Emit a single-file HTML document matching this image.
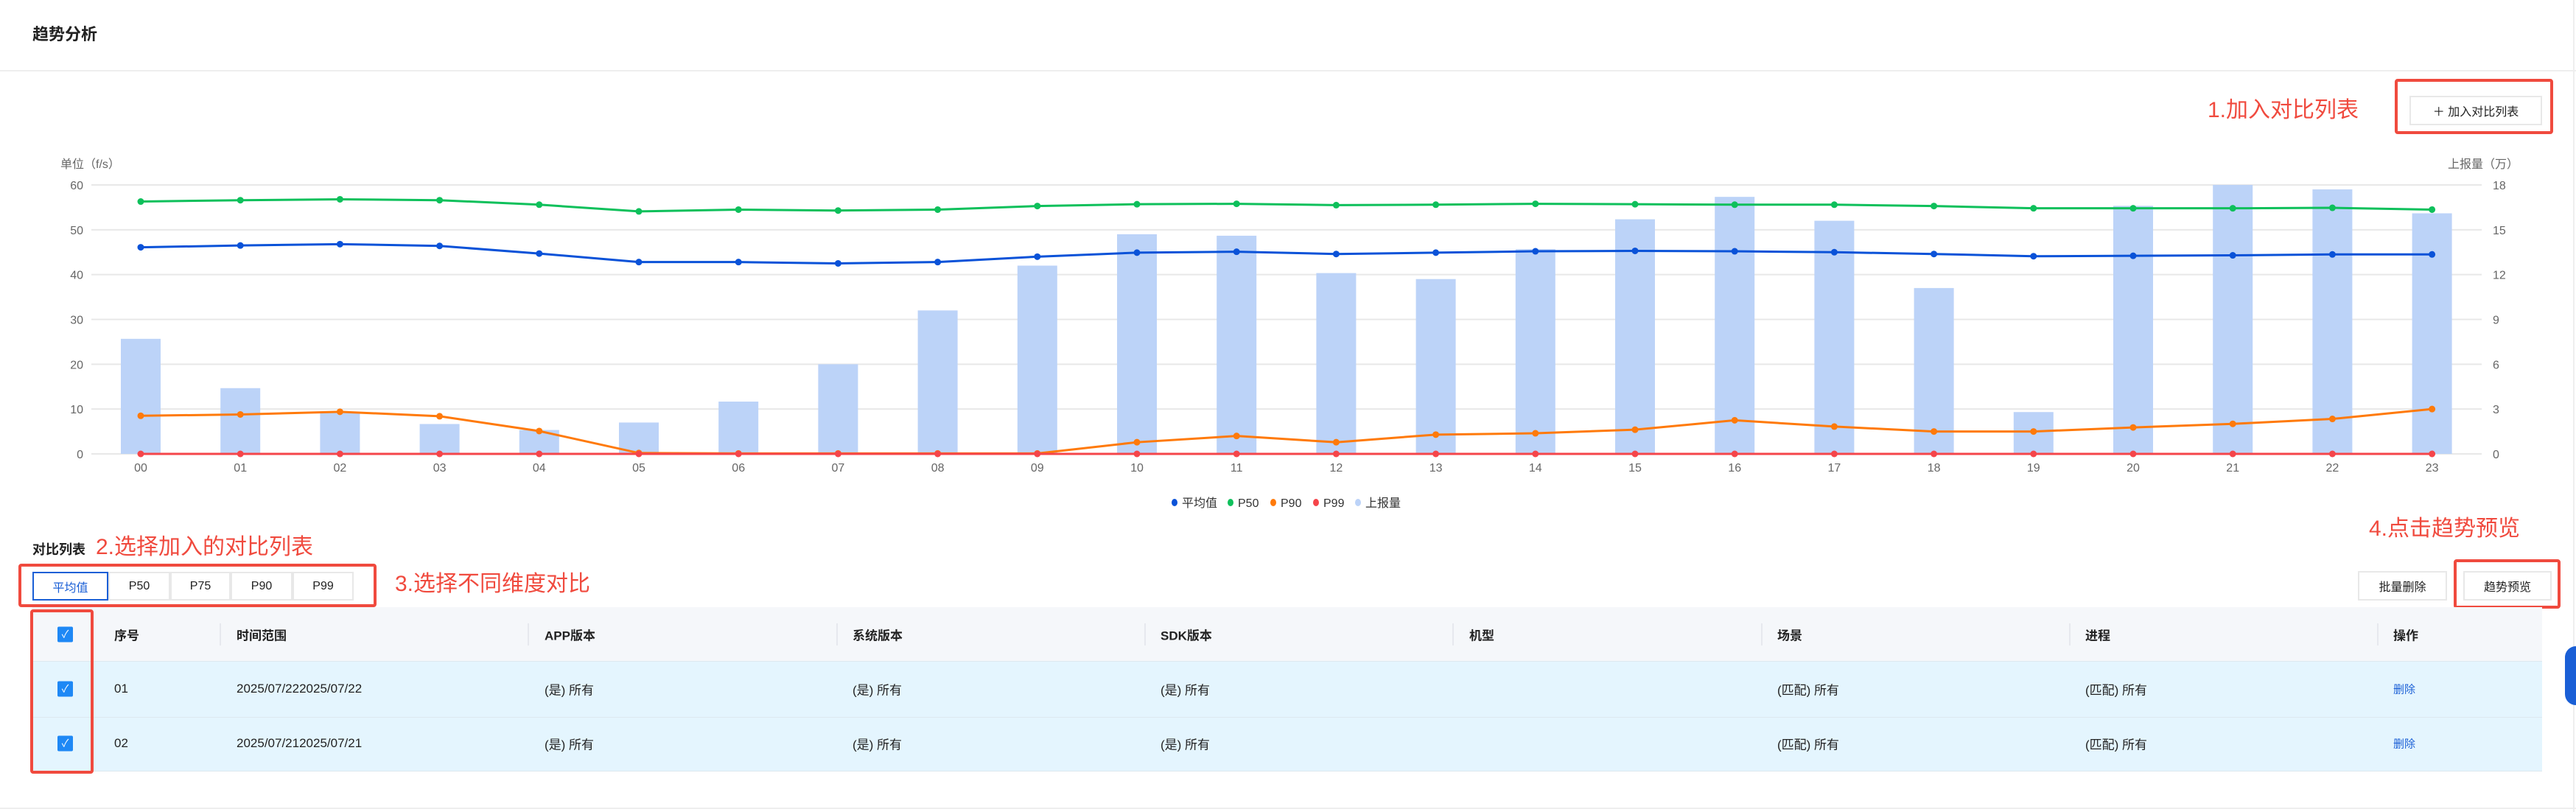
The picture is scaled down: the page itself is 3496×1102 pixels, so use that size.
<!DOCTYPE html>
<html><head><meta charset="utf-8">
<style>
*{margin:0;padding:0;box-sizing:border-box}
body{width:3496px;height:1102px;background:#fff;position:relative;overflow:hidden;font-family:"Liberation Sans","Noto Sans CJK SC",sans-serif;color:#222}
.a{position:absolute;white-space:nowrap}
.red{color:#f04a3e;font-size:30px;line-height:30px}
.rbox{position:absolute;border:4px solid #f04a3e;border-radius:4px}
.btn{position:absolute;border:2px solid #e8e8e8;background:#fff;font-size:16px;display:flex;align-items:center;justify-content:center}
.th{position:absolute;font-size:17px;font-weight:bold;transform:translateY(-50%)}
.td{position:absolute;font-size:17px;transform:translateY(-50%)}
.div{position:absolute;width:2px;background:#e6e8ee;top:846px;height:30px}
.cb{position:absolute;left:78px;width:21px;height:21px;background:#1e88f5;border-radius:2px;color:#fff;font-size:14px;line-height:21px;text-align:center;transform:translateY(-50%)}
</style></head><body>
<div class="a" style="left:44px;top:29px;font-size:22px;font-weight:bold">趋势分析</div>
<div class="a" style="left:0;top:95px;width:3496px;height:2px;background:#eee"></div>
<div class="a" style="left:3492px;top:0;width:2px;height:1102px;background:#eee"></div>

<div class="a red" style="left:2996px;top:135px">1.加入对比列表</div>
<div class="rbox" style="left:3250px;top:107px;width:215px;height:75px"></div>
<div class="btn" style="left:3270px;top:130px;width:180px;height:40px">＋&nbsp;加入对比列表</div>

<svg class="a" style="left:0;top:0" width="3496" height="720" id="chart" font-family="Liberation Sans, Noto Sans CJK SC, sans-serif"></svg>

<div class="a" style="left:44px;top:732px;font-size:18px;font-weight:bold">对比列表</div>
<div class="a red" style="left:130px;top:728px">2.选择加入的对比列表</div>
<div class="rbox" style="left:25px;top:765px;width:486px;height:59px"></div>
<div class="a" style="left:44px;top:776px;width:436px;height:39px;border:2px solid #e8e8e8"></div>
<div class="btn" style="left:44px;top:776px;width:103px;height:39px;border:2px solid #1a5fd6;color:#1a5fd6">平均值</div>
<div class="btn" style="left:147px;top:776px;width:84px;height:39px">P50</div>
<div class="btn" style="left:231px;top:776px;width:82px;height:39px">P75</div>
<div class="btn" style="left:313px;top:776px;width:84px;height:39px">P90</div>
<div class="btn" style="left:397px;top:776px;width:83px;height:39px">P99</div>
<div class="a red" style="left:536px;top:778px">3.选择不同维度对比</div>
<div class="a red" style="left:3215px;top:703px">4.点击趋势预览</div>
<div class="btn" style="left:3200px;top:775px;width:121px;height:40px">批量删除</div>
<div class="btn" style="left:3343px;top:775px;width:120px;height:40px">趋势预览</div>
<div class="rbox" style="left:3330px;top:759px;width:145px;height:67px"></div>

<div class="a" style="left:44px;top:824px;width:3406px;height:73px;background:#f5f7fa"></div>
<div class="a" style="left:44px;top:897px;width:3406px;height:76px;background:#e4f5fe;border-top:1px solid #dde8ef"></div>
<div class="a" style="left:44px;top:973px;width:3406px;height:74px;background:#e4f5fe;border-top:1px solid #dde8ef;border-bottom:1px solid #dde8ef"></div>
<div class="div" style="left:298px"></div><div class="div" style="left:716px"></div><div class="div" style="left:1135px"></div><div class="div" style="left:1553px"></div><div class="div" style="left:1971px"></div><div class="div" style="left:2390px"></div><div class="div" style="left:2808px"></div><div class="div" style="left:3226px"></div>
<div class="cb" style="top:861px">✓</div><div class="cb" style="top:935px">✓</div><div class="cb" style="top:1009px">✓</div>
<div class="th" style="left:155px;top:861px">序号</div><div class="th" style="left:321px;top:861px">时间范围</div><div class="th" style="left:739px;top:861px">APP版本</div><div class="th" style="left:1157px;top:861px">系统版本</div><div class="th" style="left:1575px;top:861px">SDK版本</div><div class="th" style="left:1994px;top:861px">机型</div><div class="th" style="left:2412px;top:861px">场景</div><div class="th" style="left:2830px;top:861px">进程</div><div class="th" style="left:3248px;top:861px">操作</div>
<div class="td" style="left:155px;top:935px">01</div><div class="td" style="left:321px;top:935px">2025/07/222025/07/22</div><div class="td" style="left:739px;top:935px">(是) 所有</div><div class="td" style="left:1157px;top:935px">(是) 所有</div><div class="td" style="left:1575px;top:935px">(是) 所有</div><div class="td" style="left:2412px;top:935px">(匹配) 所有</div><div class="td" style="left:2830px;top:935px">(匹配) 所有</div><div class="td" style="left:3248px;top:935px;color:#1a5fd6;font-size:15px">删除</div>
<div class="td" style="left:155px;top:1009px">02</div><div class="td" style="left:321px;top:1009px">2025/07/212025/07/21</div><div class="td" style="left:739px;top:1009px">(是) 所有</div><div class="td" style="left:1157px;top:1009px">(是) 所有</div><div class="td" style="left:1575px;top:1009px">(是) 所有</div><div class="td" style="left:2412px;top:1009px">(匹配) 所有</div><div class="td" style="left:2830px;top:1009px">(匹配) 所有</div><div class="td" style="left:3248px;top:1009px;color:#1a5fd6;font-size:15px">删除</div>
<div class="rbox" style="left:41px;top:827px;width:86px;height:223px"></div>
<div class="a" style="left:0;top:1096px;width:3496px;height:2px;background:#eee"></div>
<div class="a" style="left:3481px;top:877px;width:30px;height:80px;background:#1a5fd6;border-radius:15px 0 0 15px"></div>

<script>
var s=document.getElementById('chart'),h='';
function X(i){return 191+i*135.2}
function L(v){return 616-v*6.083}
function R(v){return 616-v*20.28}
h+='<text x="82" y="228" font-size="16" fill="#666">单位（f/s）</text>';
h+='<text x="3322" y="228" font-size="16" fill="#666">上报量（万）</text>';
for(var k=0;k<=6;k++){var y=616-k*60.83;
h+='<line x1="124" x2="3368" y1="'+y+'" y2="'+y+'" stroke="#e8e8e8" stroke-width="2"/>';
h+='<text x="113" y="'+(y+6)+'" font-size="16" fill="#666" text-anchor="end">'+(k*10)+'</text>';
h+='<text x="3383" y="'+(y+6)+'" font-size="16" fill="#666">'+(k*3)+'</text>';}
var bars=[7.7,4.4,2.8,2.0,1.6,2.1,3.5,6.0,9.6,12.6,14.7,14.6,12.1,11.7,13.7,15.7,17.2,15.6,11.1,2.8,16.6,18,17.7,16.1];
var p50=[56.3,56.6,56.8,56.6,55.6,54.1,54.5,54.3,54.5,55.3,55.7,55.8,55.5,55.6,55.8,55.7,55.6,55.6,55.3,54.8,54.8,54.8,54.9,54.5];
var avg=[46.1,46.5,46.8,46.4,44.7,42.8,42.8,42.5,42.8,44.0,44.9,45.1,44.6,44.9,45.2,45.3,45.2,45.0,44.6,44.1,44.2,44.3,44.5,44.5];
var p90=[8.5,8.8,9.4,8.4,5.1,0.2,0.1,0.1,0.1,0.1,2.6,4.0,2.6,4.3,4.6,5.4,7.5,6.1,5.0,5.0,5.9,6.7,7.8,10.0];
var p99=[];for(var i=0;i<24;i++)p99.push(0);
for(var i=0;i<24;i++){var t=R(bars[i]);h+='<rect x="'+(X(i)-27)+'" y="'+t+'" width="54" height="'+(616-t)+'" fill="#bcd3f8"/>';
h+='<text x="'+X(i)+'" y="640" font-size="16" fill="#666" text-anchor="middle">'+(i<10?'0'+i:i)+'</text>';}
function line(d,c){var p=d.map(function(v,i){return X(i)+','+L(v)}).join(' ');
var r='<polyline points="'+p+'" fill="none" stroke="'+c+'" stroke-width="3"/>';
d.forEach(function(v,i){r+='<circle cx="'+X(i)+'" cy="'+L(v)+'" r="4.5" fill="'+c+'"/>'});return r;}
h+=line(p50,'#0ec05b')+line(avg,'#0a52d8')+line(p90,'#ff7a0a')+line(p99,'#f5454a');
var lg=[[1594,'#0a52d8','平均值'],[1670,'#0ec05b','P50'],[1728,'#ff7a0a','P90'],[1786,'#f5454a','P99'],[1843,'#bcd3f8','上报量']];
lg.forEach(function(g){h+='<ellipse cx="'+g[0]+'" cy="682" rx="4" ry="5" fill="'+g[1]+'"/><text x="'+(g[0]+10)+'" y="688" font-size="16" fill="#333">'+g[2]+'</text>'});
s.innerHTML=h;
</script>
</body></html>
